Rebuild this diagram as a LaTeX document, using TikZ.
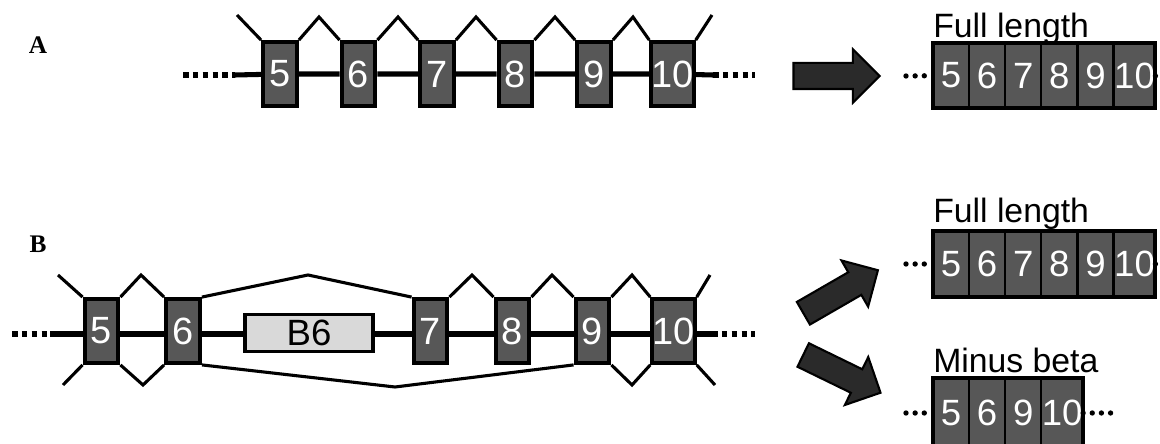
\documentclass[tikz,border=0pt]{standalone}
\usepackage{fontspec}
\setmainfont{Liberation Sans}
\newfontfamily\panelfont{Liberation Serif}
\usetikzlibrary{shapes.arrows,positioning,calc}

\definecolor{exongray}{HTML}{575757}
\definecolor{arrowgray}{HTML}{2A2A2A}
\definecolor{betagray}{HTML}{D9D9D9}

\tikzset{
  exon/.style={draw, line width=3pt, fill=exongray, minimum width=0.84cm, minimum height=1.59cm, inner sep=0pt, text=white, font=\fontsize{27}{27}\selectfont},
  cell/.style={draw, line width=0.8pt, fill=exongray, minimum width=0.875cm, minimum height=1.6cm, inner sep=0pt, text=white, font=\fontsize{26}{26}\selectfont},
  outerbox/.style={line width=2.8pt},
  bb/.style={line width=3.6pt},
  spl/.style={line width=2.2pt, line join=miter},
  dots/.style={line width=3.8pt, dash pattern=on 4pt off 3pt},
  sdots/.style={line width=3.8pt, line cap=round, dash pattern=on 0pt off 6.5pt},
  bigarrow/.style={single arrow, draw=black, fill=arrowgray, line width=1.5pt, minimum height=2.15cm, minimum width=1.3cm, single arrow head extend=0.34cm, single arrow head indent=0pt, inner xsep=0pt, inner ysep=0.3cm},
  title/.style={anchor=base west, inner sep=0pt, font=\fontsize{24}{24}\selectfont},
  panel/.style={font=\panelfont\bfseries\fontsize{18}{18}\selectfont}
}

\begin{document}
\begin{tikzpicture}[x=0.025cm, y=-0.025cm]
  \useasboundingbox (0,0) rectangle (1160,444);

  % Panel labels
  \node[panel] (labA) at (38,45) {A};
  \node[panel] (labB) at (38,244) {B};

  % Row A - exons
  \node[exon] (a5) at (280,74) {5};
  \node[exon] (a6) at (358.5,74) {6};
  \node[exon] (a7) at (437,74) {7};
  \node[exon] (a8) at (515.5,74) {8};
  \node[exon] (a9) at (594,74) {9};
  \node[exon] (a10) at (672.5,74) {10};

  % Row A - backbone
  \coordinate (aL0) at (183,75);
  \coordinate (aL1) at (235,75);
  \coordinate (aR1) at (713,75);
  \coordinate (aR0) at (755,75);
  \draw[dots] (aL0) -- (aL1);
  \draw[bb] (aL1) -- (a5) -- (a6) -- (a7) -- (a8) -- (a9) -- (a10) -- (aR1);
  \draw[dots] (aR1) -- (aR0);

  % Row A - splicing
  \coordinate (pA5) at (237,15);
  \coordinate (pA56) at (319,17);
  \coordinate (pA67) at (398,17);
  \coordinate (pA78) at (476,17);
  \coordinate (pA89) at (555,17);
  \coordinate (pA910) at (633,17);
  \coordinate (pA10) at (712,15);
  \draw[spl] (a5.north west) -- (pA5);
  \draw[spl] (a5.north east) -- (pA56) -- (a6.north west);
  \draw[spl] (a6.north east) -- (pA67) -- (a7.north west);
  \draw[spl] (a7.north east) -- (pA78) -- (a8.north west);
  \draw[spl] (a8.north east) -- (pA89) -- (a9.north west);
  \draw[spl] (a9.north east) -- (pA910) -- (a10.north west);
  \draw[spl] (a10.north east) -- (pA10);

  % Row A - arrow
  \node[bigarrow] (arrA) at (830,76) {};

  % Row A - full length
  \node[title] (tA) at (933,38) {Full length};
  \node[cell] (fa5) at (951,75.5) {5};
  \node[cell, right=0pt of fa5] (fa6) {6};
  \node[cell, right=0pt of fa6] (fa7) {7};
  \node[cell, right=0pt of fa7] (fa8) {8};
  \node[cell, right=0pt of fa8] (fa9) {9};
  \node[cell, right=0pt of fa9] (fa10) {10};
  \draw[outerbox] (fa5.north west) rectangle (fa10.south east);
  \coordinate (fdA0) at (906,76);
  \coordinate (fdA1) at (1160,76);
  \draw[sdots] (fdA0) -- (fa5);
  \draw[sdots] (fa10) -- (fdA1);

  % Row B - exons
  \node[exon] (b5) at (101.5,331) {5};
  \node[exon] (b6) at (183,331) {6};
  \node[draw, line width=2.2pt, fill=betagray, minimum width=3.2cm, minimum height=0.92cm, inner sep=0pt, font=\fontsize{26}{26}\selectfont] (b6b) at (309,333) {B6};
  \node[exon] (b7) at (430.5,331) {7};
  \node[exon] (b8) at (512.5,331) {8};
  \node[exon] (b9) at (592.5,331) {9};
  \node[exon] (b10) at (673.5,331) {10};

  % Row B - backbone
  \coordinate (bL0) at (12,334);
  \coordinate (bL1) at (50,334);
  \coordinate (bR1) at (712,334);
  \coordinate (bR0) at (755,334);
  \draw[dots] (bL0) -- (bL1);
  \draw[bb] (bL1) -- (b5.west |- bL1);
  \draw[bb] (b5.east |- bL1) -- (b6.west |- bL1);
  \draw[bb] (b6.east |- bL1) -- (b6b.west |- bL1);
  \draw[bb] (b6b.east |- bL1) -- (b7.west |- bL1);
  \draw[bb] (b7.east |- bL1) -- (b8.west |- bL1);
  \draw[bb] (b8.east |- bL1) -- (b9.west |- bL1);
  \draw[bb] (b9.east |- bL1) -- (b10.west |- bL1);
  \draw[bb] (b10.east |- bL1) -- (bR1);
  \draw[dots] (bR1) -- (bR0);

  % Row B - splicing
  \coordinate (pB5t) at (58,275);
  \coordinate (pB5b) at (63,385);
  \coordinate (pB56t) at (141,275);
  \coordinate (pB56b) at (143,385);
  \coordinate (pB67t) at (308,275);
  \coordinate (pB69b) at (395,387);
  \coordinate (pB78t) at (472,275);
  \coordinate (pB89t) at (552,275);
  \coordinate (pB910t) at (632,275);
  \coordinate (pB910b) at (632,385);
  \coordinate (pB10t) at (710,275);
  \coordinate (pB10b) at (715,385);
  \draw[spl] (b5.north west) -- (pB5t);
  \draw[spl] (b5.south west) -- (pB5b);
  \draw[spl] (b5.north east) -- (pB56t) -- (b6.north west);
  \draw[spl] (b5.south east) -- (pB56b) -- (b6.south west);
  \draw[spl] (b6.north east) -- (pB67t) -- (b7.north west);
  \draw[spl] (b6.south east) -- (pB69b) -- (b9.south west);
  \draw[spl] (b7.north east) -- (pB78t) -- (b8.north west);
  \draw[spl] (b8.north east) -- (pB89t) -- (b9.north west);
  \draw[spl] (b9.north east) -- (pB910t) -- (b10.north west);
  \draw[spl] (b9.south east) -- (pB910b) -- (b10.south west);
  \draw[spl] (b10.north east) -- (pB10t);
  \draw[spl] (b10.south east) -- (pB10b);

  % Row B - arrows
  \node[bigarrow, rotate=30] (arrUp) at (835,295) {};
  \node[bigarrow, rotate=-26] (arrDn) at (836,371) {};

  % Row B - full length
  \node[title] (tB) at (933,223) {Full length};
  \node[cell] (fb5) at (951,264) {5};
  \node[cell, right=0pt of fb5] (fb6) {6};
  \node[cell, right=0pt of fb6] (fb7) {7};
  \node[cell, right=0pt of fb7] (fb8) {8};
  \node[cell, right=0pt of fb8] (fb9) {9};
  \node[cell, right=0pt of fb9] (fb10) {10};
  \draw[outerbox] (fb5.north west) rectangle (fb10.south east);
  \coordinate (fdB0) at (906,264);
  \coordinate (fdB1) at (1160,264);
  \draw[sdots] (fdB0) -- (fb5);
  \draw[sdots] (fb10) -- (fdB1);

  % Row B - minus beta
  \node[title] (tM) at (933,373) {Minus beta};
  \begin{scope}
    \clip (0,0) rectangle (1160,444);
    \node[cell, minimum height=1.72cm] (mb5) at (951,413) {5};
    \node[cell, minimum height=1.72cm, right=0pt of mb5] (mb6) {6};
    \node[cell, minimum height=1.72cm, right=0pt of mb6] (mb9) {9};
    \node[cell, minimum height=1.72cm, right=0pt of mb9] (mb10) {10};
    \draw[outerbox] (mb5.north west) rectangle (mb10.south east);
  \end{scope}
  \coordinate (fdM0) at (906,413);
  \coordinate (fdM1) at (1113,413);
  \draw[sdots] (fdM0) -- (mb5);
  \draw[sdots] (mb10) -- (fdM1);
\end{tikzpicture}
\end{document}
